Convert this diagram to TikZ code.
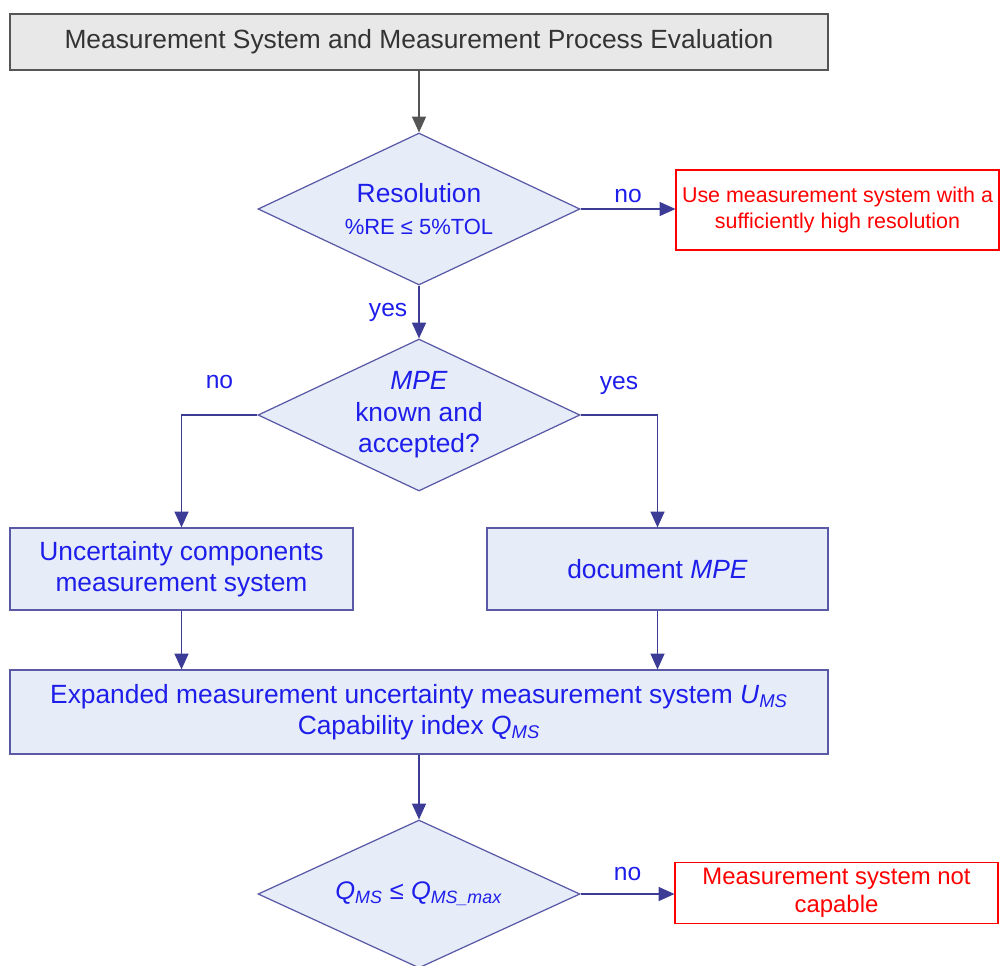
\documentclass[tikz,border=0pt]{standalone}
\usepackage{fontspec}
\setmainfont{Liberation Sans}
\usetikzlibrary{arrows.meta,shapes.geometric}
\definecolor{titre}{RGB}{232,232,232}
\definecolor{cadre}{RGB}{85,85,85}
\definecolor{bleu}{RGB}{30,30,235}
\definecolor{fond}{RGB}{230,236,248}
\definecolor{trait}{RGB}{60,60,150}
\definecolor{rouge}{RGB}{255,0,0}

\begin{document}
\begin{tikzpicture}[x=0.02cm,y=-0.02cm,line width=0.7pt,
    titlebox/.style={draw=cadre,fill=titre,text=black!80,minimum width=16.36cm,
      minimum height=1.12cm,font=\fontsize{15}{18}\selectfont},
    procbox/.style={draw=trait!85,fill=fond,text=bleu,align=center,
      font=\fontsize{15}{18}\selectfont},
    decision/.style={diamond,draw=trait!85,fill=fond,text=bleu,align=center,
      aspect=2.12,inner sep=0pt,minimum width=6.44cm,minimum height=3.04cm,
      font=\fontsize{15}{18}\selectfont},
    redbox/.style={draw=rouge,fill=white,text=rouge,align=center,minimum width=6.46cm},
    flow/.style={trait,-{Triangle[length=9pt,width=8pt]}},
    lab/.style={text=bleu,font=\fontsize{14}{16}\selectfont}]
  \useasboundingbox (0,0) rectangle (1000,965);
  % start and first test
  \node[titlebox] (titre) at (419,42) {Measurement System and Measurement Process Evaluation};
  \node[decision] (res) at (419,209)
    {Resolution\\{\fontsize{12.5}{14}\selectfont\%RE ≤ 5\%TOL}};
  \node[redbox,minimum height=1.6cm,font=\fontsize{12.2}{14.8}\selectfont] (resol) at (837.5,210)
    {Use measurement system with a\\sufficiently high resolution};
  \node[decision] (mpe) at (419,415) {\textit{MPE}\\known and\\accepted?};
  % the two branches
  \node[procbox,minimum width=6.86cm,minimum height=1.64cm] (unc) at (181.5,569)
    {Uncertainty components\\measurement system};
  \node[procbox,minimum width=6.82cm,minimum height=1.64cm] (doc) at (657.5,569)
    {document \textit{MPE}};
  \node[procbox,minimum width=16.36cm,minimum height=1.68cm] (exp) at (419,712)
    {Expanded measurement uncertainty measurement system \textit{U}\textsubscript{\textit{MS}}\\
     Capability index \textit{Q}\textsubscript{\textit{MS}}};
  % capability test
  \node[decision,minimum height=2.96cm] (cap) at (419,894)
    {\fontsize{14.5}{16}\selectfont\textit{Q}\textsubscript{\textit{MS}} ≤ \textit{Q}\textsubscript{\textit{MS\_max}}};
  \node[redbox,minimum height=1.12cm,font=\fontsize{13.6}{15.9}\selectfont] (notcap) at (836.5,893)
    {Measurement system not\\capable};
  % connectors
  \draw[flow,cadre] (titre) -- (res);
  \draw[flow] (res.east) -- node[lab,above]{no} (res.east -| resol.west);
  \draw[flow] (res) -- node[lab,left,xshift=-3pt]{yes} (mpe);
  \draw[flow] (mpe.west) -| node[lab,above=11pt,pos=0.25]{no} (unc.north);
  \draw[flow] (mpe.east) -| node[lab,above=8pt,pos=0.25]{yes} (doc.north);
  \draw[flow] (unc.south) -- (unc.south |- exp.north);
  \draw[flow] (doc.south) -- (doc.south |- exp.north);
  \draw[flow] (exp) -- (cap);
  \draw[flow] (cap.east) -- node[lab,above=4pt]{no} (cap.east -| notcap.west);
\end{tikzpicture}
\end{document}
